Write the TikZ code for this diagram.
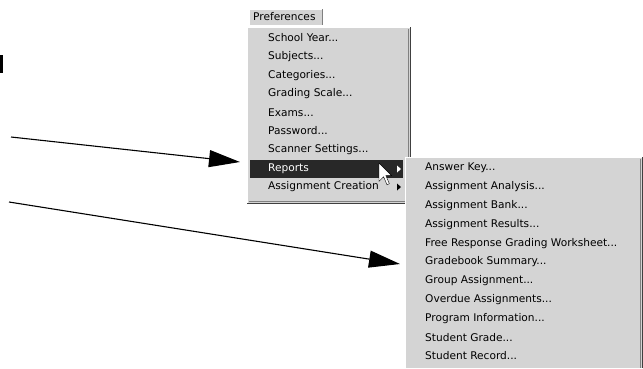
\documentclass[tikz,border=0pt]{standalone}
\usepackage{fontspec}
\setmainfont{DejaVu Sans}
\usetikzlibrary{arrows.meta}

\definecolor{menugray}{RGB}{212,212,212}
\definecolor{menudark}{RGB}{64,64,64}
\definecolor{menumid}{RGB}{128,128,128}
\definecolor{hilite}{RGB}{40,40,40}
\newcommand{\mdots}{...}

\tikzset{
    item/.style={anchor=west, inner sep=0pt, font=\fontsize{10.6}{12}\selectfont},
    pointer/.style={-{Triangle[length=31pt,width=17pt]}, line width=1.1pt},
}

\begin{document}
\begin{tikzpicture}[x=1pt, y=-1pt]
    \useasboundingbox (0,0) rectangle (643,368);
    \fill[white] (0,0) rectangle (643,368);

    % clipped letter at the left edge
    \fill[black] (0,55) rectangle (3,73);

    % menu bar entry
    \fill[menugray] (249,9) rectangle (322,25);
    \draw[white] (249,25)--(249,9)--(322,9);
    \draw[menumid] (322,9)--(322,25);
    \node[item] (prefs) at (253,17) {Preferences};

    % main menu
    \fill[menugray] (247,27) rectangle (410,203);
    \draw[white] (247,203)--(247,27)--(410,27);
    \draw[menumid] (248.5,201.5)--(408.5,201.5)--(408.5,28.5);
    \draw[menudark] (247,203)--(410,203)--(410,27);
    \fill[hilite] (250,160) rectangle (403,178);
    \foreach \lbl [count=\i] in {School Year\mdots, Subjects\mdots, Categories\mdots,
        Grading Scale\mdots, Exams\mdots, Password\mdots, Scanner Settings\mdots}
        \node[item] (pref-\i) at (268,{38+18.6*(\i-1)}) {\lbl};
    \node[item, text=white] (pref-8) at (268,168.5) {Reports};
    \node[item] (pref-9) at (268,187) {Assignment Creation};
    \fill[white] (397,165.5)--(401,169)--(397,172.5)--cycle;
    \fill[black] (397,183.5)--(401,187)--(397,190.5)--cycle;

    % reports submenu
    \fill[menugray] (405,157) rectangle (642,368);
    \draw[white] (405,368)--(405,157)--(642,157);
    \draw[menumid] (640.5,158.5)--(640.5,368);
    \draw[menudark] (642,157)--(642,368);
    \foreach \lbl [count=\i] in {Answer Key\mdots, Assignment Analysis\mdots,
        Assignment Bank\mdots, Assignment Results\mdots, Free Response Grading Worksheet\mdots,
        Gradebook Summary\mdots, Group Assignment\mdots, Overdue Assignments\mdots,
        Program Information\mdots, Student Grade\mdots, Student Record\mdots}
        \node[item] (rep-\i) at (425,{168+18.8*(\i-1)}) {\lbl};

    % mouse cursor
    \filldraw[fill=white, draw=black, line join=miter, shift={(379,163)}, scale=1.15]
        (0,0)--(0,16)--(4,12)--(7,19)--(9,18)--(6,11)--(11,11)--cycle;

    % arrows
    \coordinate (tail-a) at (11,137);
    \coordinate (head-a) at (240,162);
    \coordinate (tail-b) at (9,202);
    \coordinate (head-b) at (400,264);
    \draw[pointer] (tail-a)--(head-a);
    \draw[pointer] (tail-b)--(head-b);
\end{tikzpicture}
\end{document}
